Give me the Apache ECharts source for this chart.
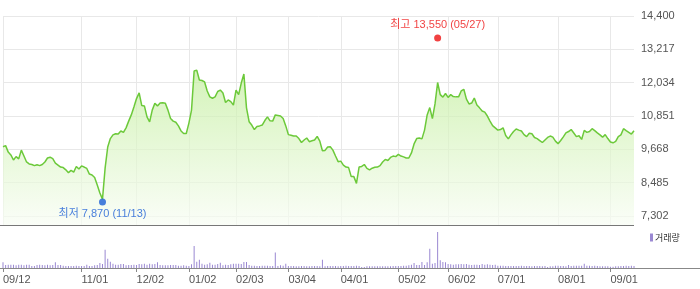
<!DOCTYPE html>
<html><head><meta charset="utf-8">
<script src="https://cdn.jsdelivr.net/npm/echarts@6/dist/echarts.min.js"></script>
<style>html,body{margin:0;padding:0;background:#fff}#c{width:700px;height:289px}</style>
</head><body><div id="c"></div>
<script>
// Trading calendar (KRX): weekdays minus market holidays
const startDate = '2024-09-12';
const endDate = '2025-09-12';
const holidays = ['2024-09-16','2024-09-17','2024-09-18','2024-10-01','2024-10-03','2024-10-09','2024-12-25','2024-12-31',
  '2025-01-01','2025-01-27','2025-01-28','2025-01-29','2025-01-30','2025-03-03','2025-05-01','2025-05-05','2025-05-06',
  '2025-06-03','2025-06-06','2025-08-15'];
// x-axis tick label dates
const tickDates = ['2024-09-12','2024-11-01','2024-12-02','2025-01-02','2025-02-03','2025-03-04','2025-04-01','2025-05-02','2025-06-02','2025-07-01','2025-08-01','2025-09-01'];
// y-axis tick labels
const priceTicks = [7302, 8485, 9668, 10851, 12034, 13217, 14400];
// closing prices
const closes = [
9760,9800,9570,9470,9290,9410,9330,9640,9430,9220,
9150,9130,9090,9120,9090,9130,9220,9360,9390,9340,
9180,9110,9040,9020,8940,8840,8920,8860,9060,8970,
9080,9040,8990,8790,8760,8670,8400,8120,7900,9000,
9750,10050,10180,10220,10210,10320,10270,10430,10670,10890,
11170,11470,11670,11220,11210,10820,10640,11060,11300,11210,
11310,11320,11300,11060,10760,10670,10630,10500,10320,10230,
10230,10600,11060,12450,12480,12130,12110,12060,11740,11530,
11480,11530,11720,11770,11670,11330,11420,11360,11240,11770,
11610,12020,12340,11140,10650,10530,10370,10480,10500,10530,
10690,10820,10680,10670,10890,10870,10850,10760,10500,10190,
10170,10140,10140,10050,9910,10000,10070,9940,9970,10000,
10130,9960,9620,9630,9750,9760,9640,9430,9230,9250,
9110,9040,9020,8700,8700,8460,9040,9060,9130,8990,
8940,9000,9030,9040,9090,9220,9310,9270,9380,9430,
9410,9490,9430,9400,9360,9360,9540,9860,10050,10070,
10040,10350,10890,11150,10760,11280,12040,11610,11520,11650,
11510,11610,11540,11530,11530,11740,11800,11450,11280,11310,
11490,11240,11140,11030,10990,10850,10670,10510,10430,10350,
10370,10430,10160,10040,10180,10300,10390,10350,10320,10190,
10120,10240,10220,10090,10050,9980,9910,10000,10090,10140,
10100,9960,9870,9980,10110,10250,10300,10370,10250,10120,
10150,10020,10340,10270,10300,10400,10330,10250,10180,10100,
10190,10050,9930,9900,9950,10120,10180,10400,10330,10270,
10210,10330];
// trading volume (thousand shares)
const volumes = [
570,300,330,330,330,270,330,330,270,330,
330,200,200,300,330,300,270,330,270,300,
570,300,300,230,200,200,200,200,230,200,
200,200,330,200,200,270,300,500,400,1830,
930,630,430,330,330,400,400,270,300,300,
330,300,400,370,430,330,430,370,400,570,
300,270,270,270,300,300,300,230,230,270,
230,200,370,2230,630,830,430,330,370,530,
330,330,400,530,270,330,300,370,430,430,
430,400,600,600,300,230,230,200,200,230,
230,230,200,200,1570,200,270,230,430,200,
200,200,170,170,200,200,170,170,200,200,
200,170,830,170,200,200,200,200,170,200,
200,230,200,200,200,230,200,100,100,170,
170,170,170,170,170,170,170,170,170,200,
200,200,200,230,230,270,330,500,300,300,
600,300,570,1930,430,500,3630,770,600,570,
400,370,330,370,370,400,370,400,330,300,
330,330,300,400,330,370,330,300,330,230,
230,230,200,200,200,200,200,200,230,200,
200,200,170,200,200,200,170,200,100,170,
170,230,230,200,200,170,300,200,230,230,
230,230,430,230,230,200,230,200,170,170,
170,170,130,130,170,170,200,200,230,200,
230,200];
// extremes (intraday)
const highDate = '2025-05-27', highVal = 13550;
const lowDate = '2024-11-13', lowVal = 7870;

function tradingDays(s, e, hol) {
  const out = [];
  const d = new Date(s + 'T00:00:00Z'), end = new Date(e + 'T00:00:00Z');
  while (d <= end) {
    const iso = d.toISOString().slice(0, 10);
    const wd = d.getUTCDay();
    if (wd !== 0 && wd !== 6 && !hol.includes(iso)) out.push(iso);
    d.setUTCDate(d.getUTCDate() + 1);
  }
  return out;
}
const dates = tradingDays(startDate, endDate, holidays);
const md = v => v.slice(5).replace('-', '/');
const fmt = n => n.toLocaleString('en-US');
const isTick = (i, v) => tickDates.includes(v);
const FONT = "'Liberation Sans', Arial, 'Noto Sans CJK KR', sans-serif";

const chart = echarts.init(document.getElementById('c'), null, {renderer: 'canvas'});
chart.setOption({
  animation: false,
  backgroundColor: '#fff',
  grid: [
    {left: 3, right: 66, top: 16, height: 209},
    {left: 3, right: 66, top: 232, height: 36}
  ],
  legend: {
    data: ['거래량'], left: 650, top: 233, icon: 'rect', itemWidth: 3, itemHeight: 8,
    selectedMode: false, padding: 0,
    textStyle: {fontSize: 9, color: '#333', fontFamily: "'Noto Sans CJK KR', sans-serif", padding: [0, 0, 0, -3]}
  },
  xAxis: [
    {gridIndex: 0, type: 'category', boundaryGap: false, data: dates,
     axisLine: {show: false}, axisTick: {show: false}, axisLabel: {show: false},
     splitLine: {show: true, interval: isTick, lineStyle: {color: '#e8e8e8', width: 1}}},
    {gridIndex: 1, type: 'category', boundaryGap: false, data: dates,
     axisLine: {show: false},
     axisTick: {show: true, interval: isTick, length: 4, lineStyle: {color: '#888'}},
     axisLabel: {show: true, interval: isTick, align: 'left', margin: 6, color: '#555', fontSize: 11,
       fontFamily: FONT, formatter: md},
     splitLine: {show: false}}
  ],
  yAxis: [
    {gridIndex: 0, type: 'value', position: 'right', min: 6983, max: 14400,
     axisLine: {show: false},
     axisTick: {show: false, customValues: priceTicks},
     axisLabel: {customValues: priceTicks, margin: 7, color: '#555', fontSize: 11, fontFamily: FONT, formatter: v => fmt(v)},
     splitLine: {show: true, lineStyle: {color: '#e8e8e8', width: 1}}},
    {gridIndex: 1, type: 'value', min: 0, max: 'dataMax', show: false, splitLine: {show: false}}
  ],
  graphic: [
    {type: 'line', shape: {x1: 0, y1: 225.5, x2: 634, y2: 225.5}, style: {stroke: '#777', lineWidth: 1}, z: 10},
    {type: 'line', shape: {x1: 0, y1: 268.5, x2: 700, y2: 268.5}, style: {stroke: '#888', lineWidth: 1}, z: 10}
  ],
  series: [
    {type: 'line', name: '종가', xAxisIndex: 0, yAxisIndex: 0, data: closes, symbol: 'none', smooth: false,
     lineStyle: {color: '#6cc93a', width: 1.5},
     areaStyle: {color: new echarts.graphic.LinearGradient(0, 0, 0, 1, [
       {offset: 0, color: '#c2ee9c'}, {offset: 1, color: '#f8fdf4'}])},
     z: 3},
    {type: 'scatter', name: '최고', xAxisIndex: 0, yAxisIndex: 0, data: [[highDate, highVal]],
     symbolSize: 7, symbolOffset: [0, -2], itemStyle: {color: '#ee1111'},
     label: {show: true, position: 'top', distance: 4, color: '#ee1111', fontSize: 11, fontFamily: FONT,
       formatter: () => '최고 ' + fmt(highVal) + ' (' + md(highDate) + ')'}, z: 5},
    {type: 'scatter', name: '최저', xAxisIndex: 0, yAxisIndex: 0, data: [[lowDate, lowVal]],
     symbolSize: 7, symbolOffset: [0, 2], itemStyle: {color: '#1c5fd6'},
     label: {show: true, position: 'bottom', distance: 3, color: '#1c5fd6', fontSize: 11, fontFamily: FONT,
       formatter: () => '최저 ' + fmt(lowVal) + ' (' + md(lowDate) + ')'}, z: 5},
    {type: 'bar', name: '거래량', xAxisIndex: 1, yAxisIndex: 1, data: volumes, barWidth: 1,
     itemStyle: {color: '#9a88d2'}}
  ]
});
</script></body></html>
